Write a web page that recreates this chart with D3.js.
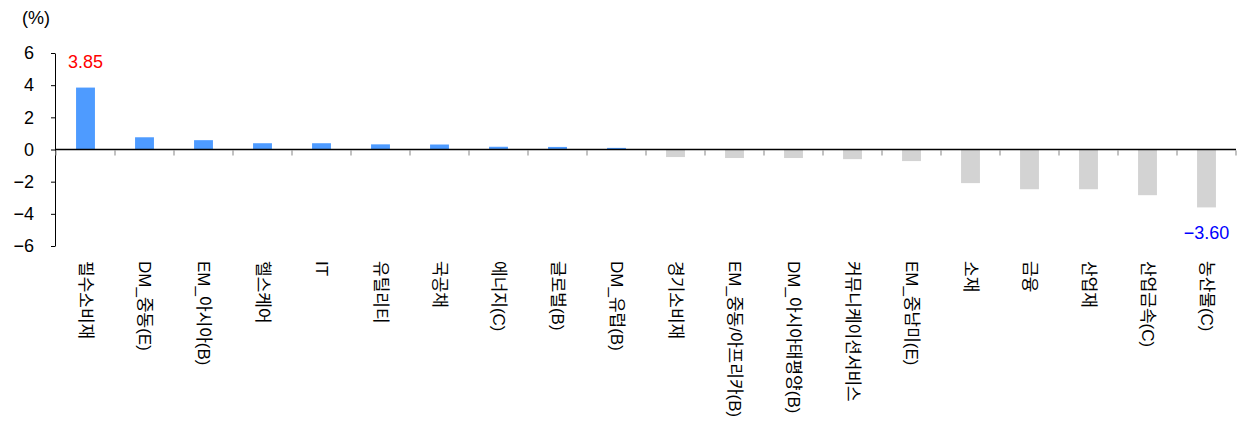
<!DOCTYPE html>
<html>
<head>
<meta charset="utf-8">
<script src="https://cdn.jsdelivr.net/npm/d3@7"></script>
<style>
  html, body { margin: 0; padding: 0; background: #fff; }
  svg { display: block; }
  text { font-family: "Liberation Sans", Arial, "Noto Sans CJK KR", sans-serif; }
</style>
</head>
<body>
<svg id="chart" width="1248" height="421"></svg>
<script>
// Asset-class / sector returns (%)
const categories = [
  "필수소비재", "DM_중동(E)", "EM_아시아(B)", "헬스케어", "IT", "유틸리티", "국공채",
  "에너지(C)", "글로벌(B)", "DM_유럽(B)", "경기소비재", "EM_중동/아프리카(B)",
  "DM_아시아태평양(B)", "커뮤니케이션서비스", "EM_중남미(E)", "소재", "금융",
  "산업재", "산업금속(C)", "농산물(C)"
];
const returns = [
  3.85, 0.76, 0.58, 0.39, 0.39, 0.32, 0.31, 0.17, 0.16, 0.10,
  -0.47, -0.53, -0.53, -0.60, -0.72, -2.09, -2.47, -2.47, -2.84, -3.60
];
const yTicks = [6, 4, 2, 0, -2, -4, -6];
const labelled = { "필수소비재": "#ff0000", "농산물(C)": "#0000ff" };

const svg = d3.select("#chart");

const x = d3.scaleBand().domain(categories).range([56, 1236]).paddingInner(0.68).paddingOuter(0.34);
const y = d3.scaleLinear().domain([-6, 6]).range([246, 53]);
const data = categories.map((c, i) => ({ cat: c, v: returns[i] }));

// bars
svg.append("g").selectAll("rect").data(data).join("rect")
  .attr("x", d => x(d.cat))
  .attr("width", x.bandwidth())
  .attr("y", d => y(Math.max(0, d.v)))
  .attr("height", d => Math.abs(y(d.v) - y(0)))
  .attr("fill", d => d.v >= 0 ? "#4e9bff" : "#d3d3d3");

// y axis
const yAxis = svg.append("g")
  .attr("transform", "translate(55,0)")
  .call(d3.axisLeft(y).tickValues(yTicks).tickFormat(d3.format("d")).tickSize(4).tickSizeOuter(0).tickPadding(17));
yAxis.select(".domain").attr("stroke", "#000").attr("stroke-width", 1);
yAxis.selectAll(".tick line").attr("stroke", "#000");
yAxis.selectAll(".tick text").attr("font-size", 18).attr("fill", "#000")
  .style("font-family", "'Liberation Sans', Arial, sans-serif");

svg.append("text").attr("x", 36).attr("y", 24).attr("text-anchor", "middle")
  .attr("font-size", 18).attr("fill", "#000").text("(%)");

// category boundary ticks on the zero line
const step = x.step();
const bounds = d3.range(categories.length + 1).map(i => x.range()[0] + i * step);
svg.append("g").selectAll("line").data(bounds).join("line")
  .attr("x1", d => d).attr("x2", d => d)
  .attr("y1", y(0) + 1).attr("y2", y(0) + 6)
  .attr("stroke", "#999").attr("stroke-width", 1.2);

// zero line
svg.append("line")
  .attr("x1", 55).attr("x2", 1236)
  .attr("y1", y(0)).attr("y2", y(0))
  .attr("stroke", "#000").attr("stroke-width", 1.5);

// rotated category labels
svg.append("g").selectAll("text").data(categories).join("text")
  .attr("transform", d => `translate(${x(d) + x.bandwidth() / 2},261) rotate(90)`)
  .attr("dy", "0.35em")
  .attr("font-size", 17)
  .attr("fill", "#000")
  .text(d => d);

// value labels for the extremes
const fmt = d3.format(".2f");
svg.append("g").selectAll("text").data(data.filter(d => labelled[d.cat])).join("text")
  .attr("x", d => x(d.cat) + x.bandwidth() / 2)
  .attr("y", d => d.v >= 0 ? y(d.v) - 20 : y(d.v) + 32)
  .attr("text-anchor", "middle")
  .attr("font-size", 18)
  .attr("fill", d => labelled[d.cat])
  .text(d => fmt(d.v));
</script>
</body>
</html>
